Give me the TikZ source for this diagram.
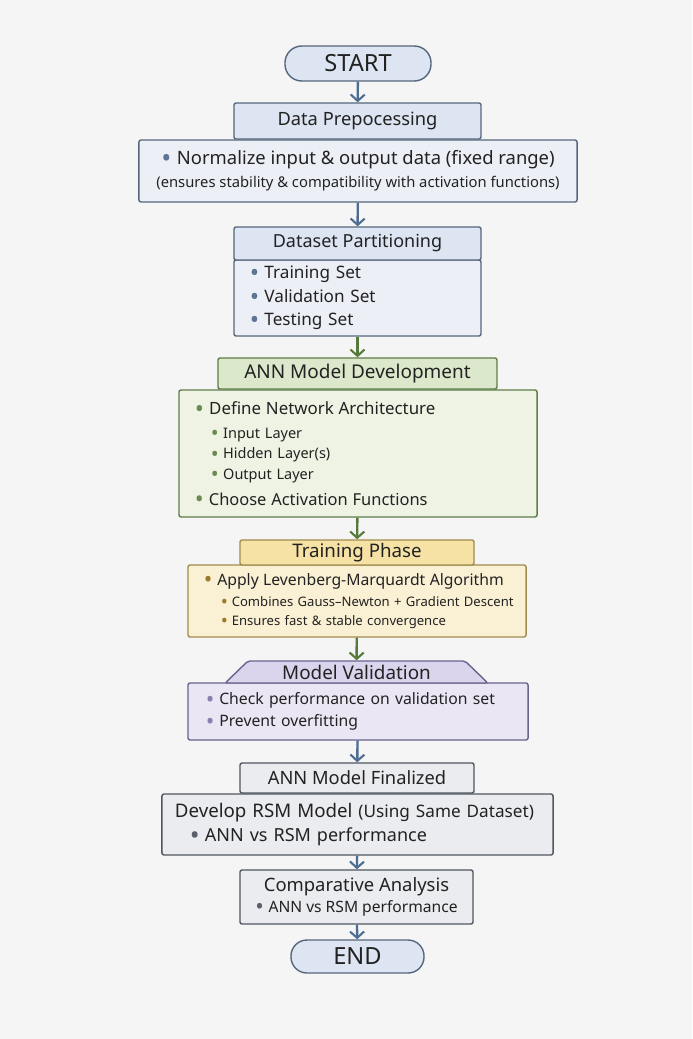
\documentclass[tikz,border=0pt]{standalone}
\usepackage{fontspec}
\setmainfont{Noto Sans}
\usetikzlibrary{arrows.meta,shapes.geometric}
\definecolor{bgc}{HTML}{F5F5F5}
\definecolor{txt}{HTML}{222222}
\definecolor{blueln}{HTML}{56677D}
\definecolor{bluehd}{HTML}{DCE5F1}
\definecolor{bluebd}{HTML}{ECF0F6}
\definecolor{bluedot}{HTML}{5E7495}
\definecolor{bluearr}{HTML}{4D6D92}
\definecolor{greenln}{HTML}{5F7D48}
\definecolor{greenhd}{HTML}{DCE8CB}
\definecolor{greenbd}{HTML}{EEF3E4}
\definecolor{greendot}{HTML}{6B8A50}
\definecolor{greenarr}{HTML}{557A3A}
\definecolor{yellowln}{HTML}{A08C4E}
\definecolor{yellowhd}{HTML}{F7E2A6}
\definecolor{yellowbd}{HTML}{FAF1D5}
\definecolor{yellowdot}{HTML}{9A7A2A}
\definecolor{purpleln}{HTML}{6A638E}
\definecolor{purplehd}{HTML}{DAD4EC}
\definecolor{purplebd}{HTML}{EAE6F4}
\definecolor{purpledot}{HTML}{8A80B0}
\definecolor{grayln}{HTML}{50565F}
\definecolor{grayfl}{HTML}{EBECEF}
\definecolor{graydot}{HTML}{5A606A}
\newcommand\dotb[1]{{\color{#1}\smash{\raisebox{-0.3ex}{\scalebox{1.45}{•}}}}\hspace{0.3em}}
\newcommand\fs[2]{\fontsize{#1}{#2}\selectfont}
\tikzset{
  blk/.style={rectangle,line width=1pt,rounded corners=1.5pt,inner sep=0pt,text=txt},
  bluehead/.style={blk,draw=blueln,fill=bluehd},
  bluebody/.style={blk,draw=blueln,fill=bluebd},
  greenhead/.style={blk,draw=greenln,fill=greenhd},
  greenbody/.style={blk,draw=greenln,fill=greenbd},
  yellowhead/.style={blk,draw=yellowln,fill=yellowhd},
  yellowbody/.style={blk,draw=yellowln,fill=yellowbd},
  purplebody/.style={blk,draw=purpleln,fill=purplebd},
  graybox/.style={blk,draw=grayln,fill=grayfl},
  pill/.style={blk,draw=blueln,fill=bluehd,rounded corners=0.42cm},
  arr/.style={-{Straight Barb[length=4.5pt,width=10pt,line width=1.5pt]},line width=1.7pt,draw=#1}
}
\begin{document}
\begin{tikzpicture}[x=0.025cm,y=-0.025cm]
% page
\fill[bgc] (0,0) rectangle (692,1039);
\useasboundingbox (0,0) rectangle (692,1039);

% start and preprocessing
\node[pill,minimum width=3.65cm,minimum height=0.875cm,font=\fs{16.8}{19}] (start) at (358,63.5) {START};
\node[bluehead,minimum width=6.175cm,minimum height=0.9cm,font=\fs{13}{15}] (prep) at (357.5,121) {Data Prepocessing};
\node[bluebody,minimum width=10.95cm,minimum height=1.55cm,align=center,font=\fs{10.5}{16.4}] (norm) at (358,171)
  {{\fs{13.1}{16.4}\dotb{bluedot}Normalize input \& output data (fixed range)}\\
   (ensures stability \& compatibility with activation functions)};

% partitioning
\node[bluebody,minimum width=6.175cm,minimum height=1.9cm,text width=5.375cm,inner xsep=0.4cm,align=left,font=\fs{12.2}{16.6}] (partbd) at (357.5,298)
  {\dotb{bluedot}Training Set\\ \dotb{bluedot}Validation Set\\ \dotb{bluedot}Testing Set};
\node[bluehead,minimum width=6.175cm,minimum height=0.825cm,font=\fs{12.8}{15}] (part) at (357.5,243.5) {Dataset Partitioning};

% ann model
\node[greenbody,minimum width=8.95cm,minimum height=3.175cm,text width=8.15cm,inner xsep=0.4cm,align=left,font=\fs{10.3}{14.4}] (annbd) at (358,453.5)
  {{\fs{12}{14.4}\dotb{greendot}Define Network Architecture}\\[2.6pt]
   \hspace{0.4cm}\dotb{greendot}Input Layer\\ \hspace{0.4cm}\dotb{greendot}Hidden Layer(s)\\ \hspace{0.4cm}\dotb{greendot}Output Layer\\[4pt]
   {\fs{11.7}{14.4}\dotb{greendot}Choose Activation Functions}};
\node[greenhead,minimum width=6.975cm,minimum height=0.775cm,font=\fs{13.5}{15}] (ann) at (357.5,373.5) {ANN Model Development};

% training
\node[yellowbody,minimum width=8.45cm,minimum height=1.8cm,text width=7.65cm,inner xsep=0.4cm,align=left,font=\fs{9.3}{13.5}] (trainbd) at (357,601)
  {{\fs{11.2}{13.5}\mbox{\dotb{yellowdot}Apply Levenberg-Marquardt Algorithm}}\\[1.5pt]
   \mbox{\hspace{0.42cm}\dotb{yellowdot}Combines Gauss–Newton + Gradient Descent}\\ \mbox{\hspace{0.42cm}\dotb{yellowdot}Ensures fast \& stable convergence}};
\node[yellowhead,minimum width=5.85cm,minimum height=0.625cm,font=\fs{13.3}{15}] (train) at (357,552.5) {Training Phase};

% validation
\node[purplebody,minimum width=8.5cm,minimum height=1.425cm,text width=7.6cm,inner xsep=0.45cm,align=left,font=\fs{11.2}{15.6}] (valbd) at (358,711.5)
  {\dotb{purpledot}Check performance on validation set\\ \dotb{purpledot}Prevent overfitting};
\node[trapezium,trapezium stretches=true,trapezium angle=43,draw=purpleln,fill=purplehd,line width=1pt,rounded corners=1.5pt,
  minimum width=6.575cm,minimum height=0.55cm,inner sep=0pt,text=txt,font=\fs{13.4}{15}] (val) at (356.5,672) {Model Validation};

% final, rsm, comparison
\node[graybox,minimum width=5.85cm,minimum height=0.75cm,font=\fs{13}{15}] (final) at (357,778) {ANN Model Finalized};
\node[graybox,minimum width=9.775cm,minimum height=1.525cm,text width=9.125cm,inner xsep=0.325cm,align=left,font=\fs{12.8}{17}] (rsm) at (357.5,824.5)
  {{\fs{13.3}{17}Develop RSM Model \fs{12.2}{17}(Using Same Dataset)}\\
   \hspace{0.37cm}\dotb{graydot}ANN vs RSM performance};
\node[graybox,minimum width=5.825cm,minimum height=1.35cm,align=center,font=\fs{11.1}{14.5}] (comp) at (356.5,897)
  {{\fs{13.1}{14.5}Comparative Analysis}\\ \dotb{graydot}ANN vs RSM performance};
\node[pill,minimum width=3.325cm,minimum height=0.825cm,rounded corners=0.4cm,font=\fs{16.8}{19}] (end) at (357.5,956.5) {END};

% arrows
\draw[arr=bluearr] (start) -- (prep);
\draw[arr=bluearr] (norm) -- (part);
\draw[arr=greenarr] (partbd) -- (ann);
\draw[arr=greenarr] (annbd) -- (train);
\draw[arr=greenarr] (trainbd) -- (val);
\draw[arr=bluearr] (valbd) -- (final);
\draw[arr=bluearr] (rsm) -- (comp);
\draw[arr=bluearr] (comp) -- (end);
\end{tikzpicture}
\end{document}
